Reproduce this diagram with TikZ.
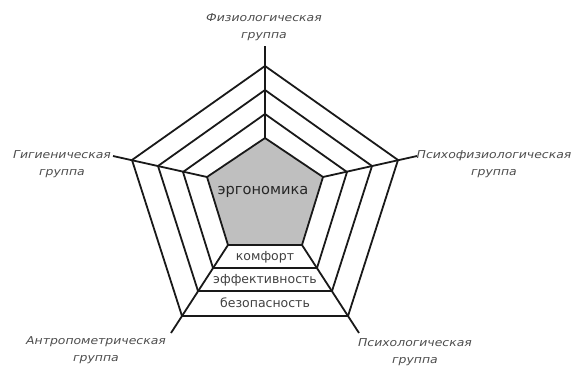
\documentclass[tikz,border=0pt]{standalone}
\usepackage{fontspec}
\setmainfont{DejaVu Sans}
\newfontfamily\grpfont{DejaVu Sans}[FakeStretch=1.15]
\begin{document}
\begin{tikzpicture}[x=1pt, y=-1pt, line width=1.8pt, line join=round,
		grp/.style={font=\grpfont\itshape\fontsize{10.8}{17}\selectfont, text=black!70, align=center, inner sep=0pt},
		band/.style={font=\fontsize{12.5}{14}\selectfont, text=black!75, inner sep=0pt}]
			\useasboundingbox (0,0) rectangle (573,365);
			\coordinate (t1) at (265,66);  \coordinate (l1) at (132,160); \coordinate (r1) at (398,160); \coordinate (bl1) at (182,316); \coordinate (br1) at (348,316);
			\coordinate (t2) at (265,90);  \coordinate (l2) at (158,166); \coordinate (r2) at (372,166); \coordinate (bl2) at (198,291); \coordinate (br2) at (332,291);
			\coordinate (t3) at (265,114); \coordinate (l3) at (183,172); \coordinate (r3) at (347,172); \coordinate (bl3) at (213,268); \coordinate (br3) at (317,268);
			\coordinate (t4) at (265,138); \coordinate (l4) at (207,177); \coordinate (r4) at (323,177); \coordinate (bl4) at (228,245); \coordinate (br4) at (302,245);
			\coordinate (et) at (265,46); \coordinate (el) at (113,156); \coordinate (er) at (417,156); \coordinate (ebl) at (171,333); \coordinate (ebr) at (359,333);
			\fill[black!25] (t4) -- (r4) -- (br4) -- (bl4) -- (l4) -- cycle;
			\draw[black!90] (t1) -- (r1) -- (br1) -- (bl1) -- (l1) -- cycle;
			\draw[black!90] (t2) -- (r2) -- (br2) -- (bl2) -- (l2) -- cycle;
			\draw[black!90] (t3) -- (r3) -- (br3) -- (bl3) -- (l3) -- cycle;
			\draw[black!90] (t4) -- (r4) -- (br4) -- (bl4) -- (l4) -- cycle;
			\draw[black!90] (t4) -- (et);
			\draw[black!90] (l4) -- (el);
			\draw[black!90] (r4) -- (er);
			\draw[black!90] (bl4) -- (ebl);
			\draw[black!90] (br4) -- (ebr);
			\node[font=\fontsize{14.6}{16}\selectfont, text=black!85, inner sep=0pt] (ergo) at (263,192) {эргономика};
			\node[band] (comf) at (265,257) {комфорт};
			\node[band] (eff) at (265,280) {эффективность};
			\node[band] (safe) at (265,303) {безопасность};
			\node[grp] (phys) at (264,27) {Физиологическая\\группа};
			\node[grp] (hyg) at (62,164) {Гигиеническая\\группа};
			\node[grp] (psyph) at (494,164) {Психофизиологическая\\группа};
			\node[grp] (anthro) at (96,350) {Антропометрическая\\группа};
			\node[grp] (psy) at (415,352) {Психологическая\\группа};
	\end{tikzpicture}
\end{document}
